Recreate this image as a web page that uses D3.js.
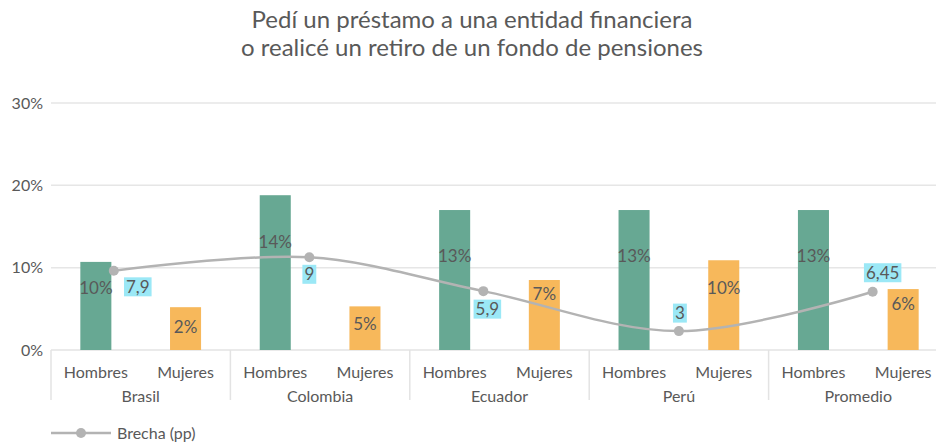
<!DOCTYPE html>
<html>
<head>
<meta charset="utf-8">
<script src="https://cdn.jsdelivr.net/npm/d3@7"></script>
<style>
  body { margin: 0; background: #fff; }
  text { font-family: Lato, "Noto Sans", sans-serif; fill: #595959; }
</style>
</head>
<body>
<div id="chart"></div>
<script>
// data
let countries = ["Brasil", "Colombia", "Ecuador", "Perú", "Promedio"];
let genders = ["Hombres", "Mujeres"];
let hombres = [10.7, 18.8, 17.0, 17.0, 17.0];
let mujeres = [5.2, 5.3, 8.5, 10.9, 7.4];
let hombresLabels = ["10%", "14%", "13%", "13%", "13%"];
let mujeresLabels = ["2%", "5%", "7%", "10%", "6%"];
let brecha = [7.9, 9.0, 6.25, 3.0, 6.2];
let brechaLabels = ["7,9", "9", "5,9", "3", "6,45"];
let yTicks = [0, 10, 20, 30];

// layout bits (label placement as in the original)
let brechaPos = [0.35, 1.44, 2.41, 3.50, 4.58];
let brechaLabelOff = [[24, 16], [0, 17], [4, 18], [1, -18], [10, -19]];
let hLabelDy = [26, 47, 46, 46, 46];
let mLabelDy = [20, 18, 14, 28, 15];

let svgWidth = 936;
let svgHeight = 444;

let svg = d3.select("#chart")
    .append("svg")
    .attr("width", svgWidth)
    .attr("height", svgHeight);

// title
svg.append("text")
    .attr("x", 472)
    .attr("y", 28)
    .attr("text-anchor", "middle")
    .style("font-size", "24px")
    .text("Pedí un préstamo a una entidad financiera");
svg.append("text")
    .attr("x", 472)
    .attr("y", 56)
    .attr("text-anchor", "middle")
    .style("font-size", "24px")
    .text("o realicé un retiro de un fondo de pensiones");

// scales
let x0 = d3.scaleBand().domain(countries).range([51, 948]);
let x1 = d3.scaleBand().domain(genders).range([0, x0.bandwidth()])
    .paddingInner(0.654).paddingOuter(0.327);
let xPos = d3.scaleLinear().domain([0, countries.length]).range([51, 948]);
let y = d3.scaleLinear().domain([0, 30]).range([350, 103]);
let yLine = d3.scaleLinear().domain([0, 20]).range([368, 122]);

// gridlines
svg.append("g")
    .selectAll("line")
    .data(yTicks.filter(d => d > 0))
    .enter()
    .append("line")
    .attr("x1", 51)
    .attr("x2", svgWidth)
    .attr("y1", d => y(d))
    .attr("y2", d => y(d))
    .attr("stroke", "#e6e6e6")
    .attr("stroke-width", 1.5);

// y axis labels
let leftAxis = d3.axisLeft(y).tickValues(yTicks).tickSize(0).tickPadding(0)
    .tickFormat(d => d + "%");
let yAxisG = svg.append("g")
    .attr("transform", "translate(43,0)")
    .call(leftAxis);
yAxisG.select(".domain").remove();
yAxisG.selectAll("text")
    .style("font-size", "16px")
    .style("font-family", "Lato, sans-serif")
    .attr("fill", "#595959");

// x axis line + group separators
svg.append("line")
    .attr("x1", 51).attr("x2", svgWidth)
    .attr("y1", y(0)).attr("y2", y(0))
    .attr("stroke", "#e3e3e3")
    .attr("stroke-width", 1.5);

svg.append("g")
    .selectAll("line")
    .data(countries)
    .enter()
    .append("line")
    .attr("x1", d => x0(d))
    .attr("x2", d => x0(d))
    .attr("y1", y(0))
    .attr("y2", 400)
    .attr("stroke", "#e3e3e3")
    .attr("stroke-width", 1.5);

// bars
let barData = [];
countries.forEach(function(c, i) {
    barData.push({ c: c, g: "Hombres", v: hombres[i], label: hombresLabels[i], dy: hLabelDy[i] });
    barData.push({ c: c, g: "Mujeres", v: mujeres[i], label: mujeresLabels[i], dy: mLabelDy[i] });
});
let color = d3.scaleOrdinal().domain(genders).range(["#67a893", "#f7b85b"]);

svg.append("g")
    .selectAll("rect")
    .data(barData)
    .enter()
    .append("rect")
    .attr("x", d => x0(d.c) + x1(d.g))
    .attr("y", d => y(d.v))
    .attr("width", x1.bandwidth())
    .attr("height", d => y(0) - y(d.v))
    .attr("fill", d => color(d.g));

// category labels
svg.append("g")
    .selectAll("text")
    .data(barData)
    .enter()
    .append("text")
    .attr("x", d => x0(d.c) + x1(d.g) + x1.bandwidth() / 2)
    .attr("y", 378)
    .attr("text-anchor", "middle")
    .style("font-size", "16px")
    .text(d => d.g);

svg.append("g")
    .selectAll("text")
    .data(countries)
    .enter()
    .append("text")
    .attr("x", d => x0(d) + x0.bandwidth() / 2)
    .attr("y", 402)
    .attr("text-anchor", "middle")
    .style("font-size", "16px")
    .text(d => d);

// line series
let lineData = countries.map((c, i) => ({ x: xPos(brechaPos[i]), y: yLine(brecha[i]), label: brechaLabels[i], off: brechaLabelOff[i] }));
let line = d3.line().x(d => d.x).y(d => d.y).curve(d3.curveCatmullRom.alpha(0.5));

svg.append("path")
    .datum(lineData)
    .attr("d", line)
    .attr("fill", "none")
    .attr("stroke", "#b3b3b3")
    .attr("stroke-width", 2.5);

// bar labels (drawn over the line)
svg.append("g")
    .selectAll("text")
    .data(barData)
    .enter()
    .append("text")
    .attr("x", d => x0(d.c) + x1(d.g) + x1.bandwidth() / 2)
    .attr("y", d => y(d.v) + d.dy)
    .attr("dy", "0.35em")
    .attr("text-anchor", "middle")
    .style("font-size", "17px")
    .text(d => d.label);

svg.append("g")
    .selectAll("circle")
    .data(lineData)
    .enter()
    .append("circle")
    .attr("cx", d => d.x)
    .attr("cy", d => d.y)
    .attr("r", 5)
    .attr("fill", "#b3b3b3");

// line labels with cyan boxes
let lbl = svg.append("g")
    .selectAll("g")
    .data(lineData)
    .enter()
    .append("g")
    .attr("transform", d => `translate(${d.x + d.off[0]}, ${d.y + d.off[1]})`);

let lblText = lbl.append("text")
    .attr("text-anchor", "middle")
    .attr("dy", "0.35em")
    .style("font-size", "17px")
    .text(d => d.label);

lblText.each(function() {
    let bb = this.getBBox();
    d3.select(this.parentNode)
        .insert("rect", "text")
        .attr("x", bb.x - 2)
        .attr("y", -9.5)
        .attr("width", bb.width + 4)
        .attr("height", 19)
        .attr("fill", "#9be8f6");
});

// legend
let legend = svg.append("g").attr("transform", "translate(51, 433)");
legend.append("line")
    .attr("x1", 0).attr("x2", 60)
    .attr("stroke", "#b3b3b3")
    .attr("stroke-width", 2.5);
legend.append("circle")
    .attr("cx", 30)
    .attr("r", 5)
    .attr("fill", "#b3b3b3");
legend.append("text")
    .attr("x", 66)
    .attr("dy", "0.35em")
    .style("font-size", "16px")
    .text("Brecha (pp)");
</script>
</body>
</html>
